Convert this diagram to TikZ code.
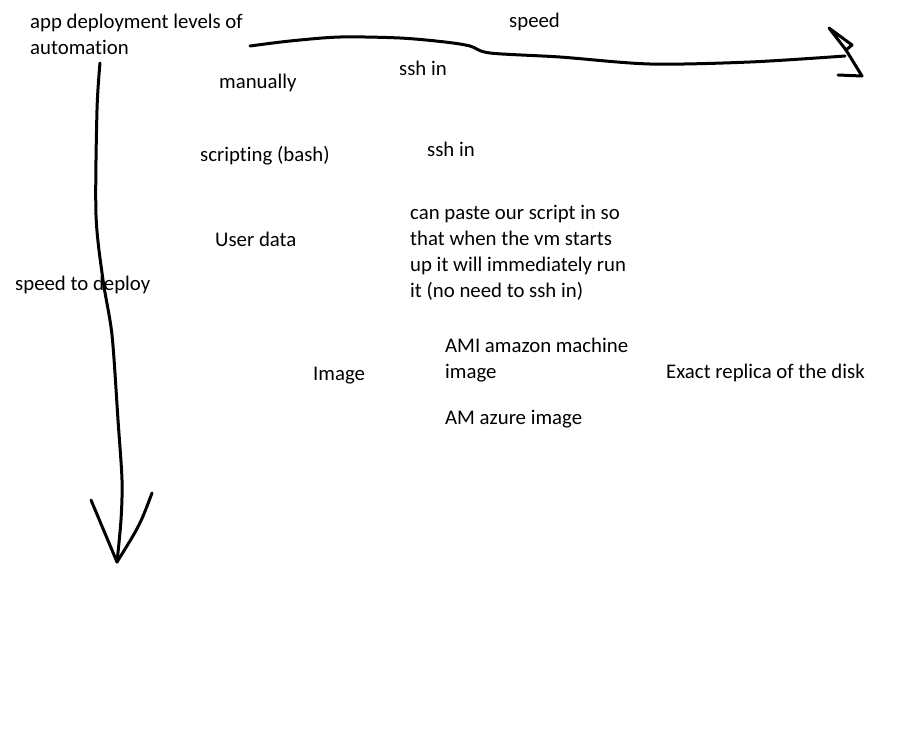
\documentclass[tikz,border=0pt]{standalone}
\usepackage{fontspec}
\setmainfont[Ligatures={NoCommon,NoRare}]{Carlito}
\usetikzlibrary{positioning}

\begin{document}
\begin{tikzpicture}[
  x=1pt, y=-1pt,
  lbl/.style={inner sep=0pt, anchor=base west, align=left,
    font=\fontsize{20.8}{26}\selectfont},
  stroke/.style={line width=3pt, line cap=round, line join=round},
]
  \useasboundingbox (0,0) rectangle (912,732);

  % Axis titles (multi-line nodes sit on their last baseline)
  \node[lbl] (title) at (30,54) {app deployment levels of\\automation};
  \node[lbl] (speedlbl) at (509,27) {speed};
  \node[lbl] (deploylbl) at (15,290) {speed to deploy};

  % Levels
  \node[lbl] (manual) at (219,88) {manually};
  \node[lbl] (sshone) at (399,75) {ssh in};
  \node[lbl] (scripting) at (200,161) {scripting (bash)};
  \node[lbl] (sshtwo) at (427,156) {ssh in};
  \node[lbl] (userdata) at (215,246) {User data};
  \node[lbl] (userdatanote) at (410,297)
    {can paste our script in so\\that when the vm starts\\up it will immediately run\\it (no need to ssh in)};
  \node[lbl] (image) at (313,380) {Image};
  \node[lbl] (ami) at (445,378) {AMI amazon machine\\image};
  \node[lbl] (azure) at (445,424) {AM azure image};
  \node[lbl] (replica) at (666,378) {Exact replica of the disk};

  % Speed arrow (right)
  \coordinate (hstart) at (250,46);
  \coordinate (hend) at (845,56);
  \draw[stroke] plot[smooth, tension=0.5] coordinates {(hstart) (290,41) (340,37)
    (400,38) (445,42) (470,46) (490,53) (560,57) (650,64) (750,62) (hend)};
  \draw[stroke] (829,28) -- (852,45) -- (846,50) -- cycle;
  \draw[stroke] (846,50) -- (862,76) -- (838,75);

  % Speed to deploy arrow (down)
  \coordinate (vstart) at (100,63);
  \coordinate (vend) at (117,562);
  \draw[stroke] plot[smooth, tension=0.5] coordinates {(vstart) (97,110) (96,215)
    (103,280) (112,335) (118,420) (122,480) (121,520) (vend)};
  \draw[stroke] (91,500) -- (vend);
  \draw[stroke] (152,493) .. controls (140,525) .. (vend);
\end{tikzpicture}
\end{document}
